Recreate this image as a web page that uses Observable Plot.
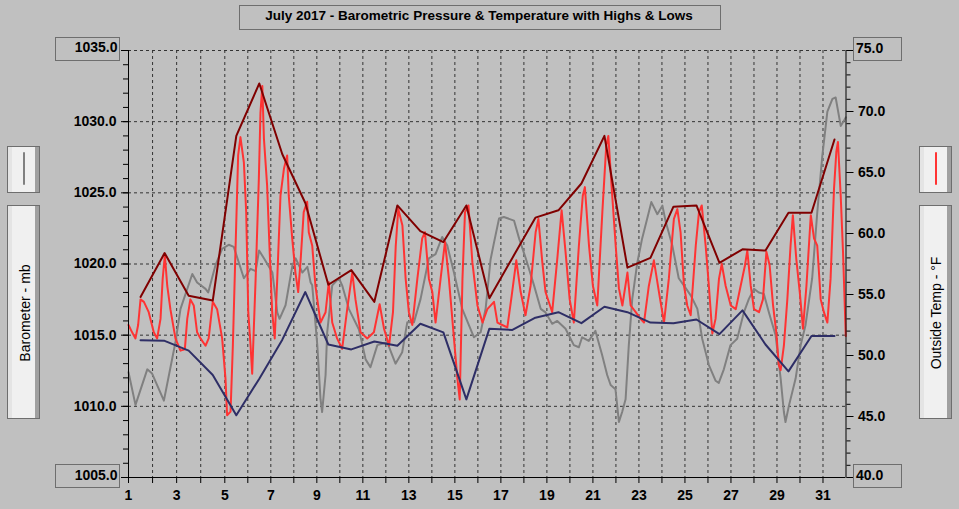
<!DOCTYPE html>
<html><head><meta charset="utf-8">
<script src="https://cdn.jsdelivr.net/npm/d3@7"></script>
<script src="https://cdn.jsdelivr.net/npm/@observablehq/plot@0.6"></script>
<style>
html,body{margin:0;padding:0;background:#c0c0c0;}
#wrap{position:relative;width:959px;height:509px;background:#c0c0c0;overflow:hidden;font-family:"Liberation Sans",Arial,sans-serif;}
#wrap svg{position:absolute;left:0;top:0;}
#wrap svg text{font-weight:bold;fill:#000;}
.box{position:absolute;box-sizing:border-box;border:1px solid #6e6e6e;}
.btn{position:absolute;box-sizing:border-box;border:1px solid #6e6e6e;background:linear-gradient(to right,#e4e4e4 0,#e4e4e4 4px,#f0f0f0 4px,#f0f0f0 calc(100% - 4px),#a0a0a0 calc(100% - 4px));}
.lbl{position:absolute;font-weight:bold;font-size:14px;line-height:14px;white-space:nowrap;color:#000;}
.vt{position:absolute;font-size:14px;line-height:14px;white-space:nowrap;color:#000;transform:translate(-50%,-50%) rotate(-90deg);}
.sw{position:absolute;width:2px;border-radius:1px;}
</style></head><body><div id="wrap"></div>
<script>
// ---- data ----
const titleText = "July 2017 - Barometric Pressure & Temperature with Highs & Lows";
const leftLabel = "Barometer - mb";
const rightLabel = "Outside Temp - °F";
const dayTicks = [1,2,3,4,5,6,7,8,9,10,11,12,13,14,15,16,17,18,19,20,21,22,23,24,25,26,27,28,29,30,31];
const baroTicks = [1005,1010,1015,1020,1025,1030,1035];
const tempTicks = [40,45,50,55,60,65,70,75];

const highTemps = [54.8,58.4,54.9,54.5,68.0,72.3,66.5,62.5,55.8,57.0,54.4,62.3,60.2,59.3,62.3,54.7,58.0,61.3,61.9,64.1,68.0,57.2,58.0,62.2,62.3,57.6,58.7,58.6,61.7,61.7,67.7];
const lowTemps = [51.25,51.2,50.4,48.4,45.1,48.1,51.3,55.2,50.9,50.5,51.15,50.8,52.6,51.9,46.4,52.2,52.1,53.1,53.55,52.65,54.0,53.55,52.7,52.65,52.95,51.75,53.7,50.9,48.7,51.6,51.6];

const baroDay = [1.00,1.29,1.78,1.98,2.47,2.95,3.16,3.65,3.85,4.20,
4.31,4.61,4.89,5.17,5.39,5.83,6.12,6.34,6.49,6.70,
7.07,7.28,7.38,7.64,7.94,8.08,8.37,8.59,8.73,8.80,
9.02,9.16,9.23,9.38,9.45,9.67,9.96,10.10,10.39,10.83,
11.12,11.33,11.63,12.06,12.42,12.71,12.93,13.22,13.51,13.87,
14.16,14.45,14.67,14.96,15.32,15.61,15.83,16.12,16.34,16.55,
16.70,16.92,17.13,17.57,17.79,18.08,18.44,18.73,18.94,19.23,
19.45,19.81,20.17,20.39,20.53,20.82,21.11,21.40,21.62,21.77,
21.98,22.13,22.27,22.42,22.56,22.71,22.93,23.14,23.36,23.54,
23.80,24.02,24.16,24.45,24.73,24.95,25.25,25.54,25.75,26.04,
26.33,26.47,26.69,26.98,27.27,27.56,27.78,28.00,28.21,28.43,
28.65,28.94,29.16,29.30,29.37,29.52,29.81,30.03,30.24,30.53,
30.75,30.97,31.19,31.41,31.55,31.77,31.92,31.99];
const baroMb = [1012.4,1010.1,1012.6,1012.3,1010.4,1014.5,1016.85,1019.3,1018.7,1018.25,
1018.0,1019.9,1021.07,1021.35,1021.2,1019.0,1019.66,1019.5,1020.95,1020.4,
1019.4,1016.6,1016.15,1017.1,1019.9,1020.4,1019.4,1019.8,1018.7,1018.5,
1014.3,1010.5,1009.6,1012.2,1015.2,1018.5,1019.0,1018.5,1016.85,1015.4,
1013.3,1012.75,1014.3,1014.5,1013.0,1013.8,1015.9,1015.9,1017.55,1020.4,
1020.7,1021.9,1021.3,1019.4,1016.85,1015.7,1014.85,1015.2,1016.9,1020.3,
1021.5,1023.2,1023.3,1023.05,1021.8,1020.4,1018.5,1016.85,1016.6,1015.8,
1016.0,1015.45,1014.3,1014.15,1014.85,1014.6,1015.3,1013.6,1012.2,1011.5,
1011.2,1008.9,1009.6,1010.5,1014.3,1017.55,1020.1,1021.8,1023.2,1024.35,
1023.5,1024.1,1023.0,1021.3,1019.0,1018.5,1017.8,1016.85,1014.75,1012.9,
1011.8,1011.65,1012.6,1014.3,1014.75,1016.6,1017.55,1018.25,1018.0,1017.9,
1016.6,1015.0,1011.95,1009.6,1008.9,1010.05,1011.95,1014.3,1015.7,1019.0,
1023.6,1027.6,1030.7,1031.6,1031.7,1029.7,1030.1,1030.3];

const tempDay = [1.00,1.15,1.29,1.40,1.50,1.64,1.84,2.05,2.19,2.33,
2.42,2.51,2.61,2.74,2.95,3.16,3.34,3.44,3.57,3.71,
3.85,3.99,4.20,4.33,4.50,4.68,4.89,5.03,5.10,5.25,
5.35,5.47,5.58,5.68,5.83,5.93,6.02,6.12,6.19,6.34,
6.48,6.55,6.63,6.70,6.84,6.94,7.06,7.17,7.28,7.42,
7.57,7.71,7.78,7.93,8.07,8.19,8.29,8.43,8.58,8.65,
8.80,8.94,9.16,9.38,9.52,9.67,9.88,10.10,10.32,10.54,
10.68,10.90,11.19,11.48,11.73,11.92,12.14,12.31,12.43,12.54,
12.72,12.86,13.00,13.15,13.37,13.58,13.70,13.87,14.02,14.16,
14.38,14.57,14.74,14.96,15.11,15.21,15.33,15.44,15.59,15.76,
15.98,16.20,16.41,16.70,16.85,17.06,17.28,17.47,17.67,17.86,
18.07,18.29,18.51,18.63,18.80,18.94,19.23,19.45,19.64,19.81,
19.99,20.17,20.39,20.56,20.65,20.83,21.00,21.19,21.41,21.58,
21.67,21.81,21.99,22.13,22.28,22.50,22.64,22.86,23.07,23.22,
23.43,23.65,23.87,24.09,24.30,24.42,24.52,24.67,24.81,24.96,
25.10,25.25,25.47,25.61,25.73,25.90,26.04,26.19,26.33,26.48,
26.60,26.77,26.99,27.21,27.42,27.61,27.71,27.86,28.00,28.22,
28.39,28.54,28.68,28.83,28.97,29.08,29.16,29.30,29.45,29.59,
29.69,29.84,29.99,30.13,30.28,30.47,30.61,30.75,30.90,31.04,
31.19,31.33,31.48,31.58,31.65,31.77,31.87,31.99];
const tempF = [52.5,51.9,51.4,52.5,54.6,54.4,53.55,51.9,51.4,53.0,
56.3,58.2,55.7,53.8,51.4,50.4,50.5,53.0,54.6,54.1,
51.9,51.4,50.8,51.4,54.4,53.8,51.4,48.1,45.1,45.4,
50.8,59.0,66.4,67.9,65.8,61.75,53.55,50.8,48.5,56.3,
64.5,69.9,72.1,67.8,63.9,59.0,53.55,51.4,56.3,63.1,
65.3,66.4,63.1,59.6,56.8,55.2,57.65,61.75,62.6,60.1,
59.0,55.7,52.7,53.55,56.0,52.7,51.4,50.55,53.8,56.8,
54.6,51.9,51.4,51.9,54.2,52.2,50.8,53.55,59.0,62.0,
60.65,56.3,53.55,52.5,56.3,59.6,60.1,56.3,55.2,52.7,
56.3,59.3,56.3,51.4,48.1,46.4,56.3,61.75,62.3,57.65,
54.1,52.7,53.8,54.4,52.7,52.5,52.3,54.9,57.8,55.2,
53.3,55.7,60.1,61.2,57.65,55.2,53.55,57.9,61.9,58.5,
54.6,52.7,59.0,63.1,63.8,59.0,55.7,54.1,61.75,67.2,
68.0,63.9,59.0,55.5,54.1,56.8,54.1,53.55,53.0,52.7,
55.7,57.8,55.2,52.7,56.3,59.0,61.2,62.0,60.1,55.7,
54.1,53.3,59.0,61.75,62.3,59.0,55.7,51.8,53.0,56.3,
57.5,55.7,54.1,53.8,55.7,57.4,58.6,55.7,53.8,53.55,
54.6,58.5,57.4,54.1,51.9,49.2,48.8,50.8,54.6,59.0,
61.5,57.9,55.2,52.2,55.7,61.5,59.6,59.0,54.6,53.55,
52.7,56.3,63.7,66.7,67.5,63.1,58.5,51.6];

// ---- helpers / tables ----
const bMin = baroTicks[0], bMax = baroTicks[baroTicks.length-1];
const tMin = tempTicks[0], tMax = tempTicks[tempTicks.length-1];
const toMb = t => bMin + (t - tMin) * (bMax - bMin) / (tMax - tMin);
const baro = baroDay.map((d,i)=>({day:d, v:baroMb[i]}));
const temp = tempDay.map((d,i)=>({day:d, v:toMb(tempF[i])}));
const highs = highTemps.map((t,i)=>({day:dayTicks[i]+0.5, v:toMb(t)}));
const lows = lowTemps.map((t,i)=>({day:dayTicks[i]+0.5, v:toMb(t)}));
const baroMinor = d3.range(bMin, bMax+1, 1);
const tempMinor = d3.range(tMin, tMax+1, 1);
const tempLabel = new Map(tempTicks.map(t=>[toMb(t), t]));

const chart = Plot.plot({
  width: 959, height: 509,
  marginLeft: 128, marginRight: 113.5, marginTop: 50, marginBottom: 32,
  x: {type: "linear", domain: [1, 5, 32], range: [128, 224.3, 845.5]},
  y: {domain: [bMin, bMax]},
  style: {background: "transparent", fontFamily: "'Liberation Sans', Arial, sans-serif", overflow: "visible"},
  marks: [
    Plot.ruleY(baroTicks.slice(1), {stroke: "#333", strokeDasharray: "3,3", strokeWidth: 1}),
    Plot.ruleX(dayTicks.slice(1), {stroke: "#333", strokeDasharray: "3,3", strokeWidth: 1}),
    Plot.line(baro, {x: "day", y: "v", stroke: "#808080", strokeWidth: 2}),
    Plot.line(temp, {x: "day", y: "v", stroke: "#ff3333", strokeWidth: 2}),
    Plot.line(lows, {x: "day", y: "v", stroke: "#2e2e66", strokeWidth: 2}),
    Plot.line(highs, {x: "day", y: "v", stroke: "#800000", strokeWidth: 2}),
    Plot.ruleX([1, 32], {stroke: "#000"}),
    Plot.ruleY([bMin], {stroke: "#000"}),
    Plot.axisY(baroMinor, {anchor: "left", tickSize: 5, tickFormat: () => "", label: null}),
    Plot.axisY(baroTicks, {anchor: "left", tickSize: 7, tickPadding: 5, fontSize: 14, label: null,
      tickFormat: d => (d === bMin || d === bMax) ? "" : d.toFixed(1)}),
    Plot.axisY(tempMinor.map(toMb), {anchor: "right", tickSize: 4, tickFormat: () => "", label: null}),
    Plot.axisY(tempTicks.map(toMb), {anchor: "right", tickSize: 7, tickPadding: 5, fontSize: 14, label: null,
      tickFormat: d => { const t = tempLabel.get(d); return (t === tMin || t === tMax) ? "" : t.toFixed(1); }}),
    Plot.axisX(dayTicks, {anchor: "bottom", tickSize: 6, tickPadding: 7, fontSize: 14, label: null,
      tickFormat: d => d % 2 ? String(d) : ""})
  ]
});

const wrap = document.getElementById("wrap");
wrap.appendChild(chart);

function add(cls, css, text) {
  const e = document.createElement("div");
  e.className = cls;
  Object.assign(e.style, css);
  if (text != null) e.textContent = text;
  wrap.appendChild(e);
  return e;
}
// title
add("box", {left: "239px", top: "5px", width: "482px", height: "25px"});
add("lbl", {left: "479px", top: "8.6px", fontSize: "13.5px", lineHeight: "13.5px", transform: "translateX(-50%)"}, titleText);
// range boxes
add("box", {left: "55px", top: "37px", width: "65px", height: "24px"});
add("box", {left: "55px", top: "464px", width: "65px", height: "24px"});
add("box", {left: "853px", top: "37px", width: "49px", height: "24px"});
add("box", {left: "853px", top: "464px", width: "49px", height: "24px"});
add("lbl", {right: (959 - 117.5) + "px", top: "39.9px"}, bMax.toFixed(1));
add("lbl", {right: (959 - 117.5) + "px", top: "467.5px"}, bMin.toFixed(1));
add("lbl", {left: "856px", top: "40.5px"}, tMax.toFixed(1));
add("lbl", {left: "856px", top: "467.5px"}, tMin.toFixed(1));
// legend buttons
add("btn", {left: "7px", top: "146px", width: "33px", height: "47px"});
add("sw", {left: "22.5px", top: "152px", height: "33px", background: "#808080"});
add("btn", {left: "7px", top: "205px", width: "33px", height: "214px"});
add("vt", {left: "24.5px", top: "313px"}, leftLabel);
add("btn", {left: "919px", top: "146px", width: "33px", height: "47px"});
add("sw", {left: "934.5px", top: "152px", height: "33px", background: "#ff3333"});
add("btn", {left: "919px", top: "205px", width: "33px", height: "214px"});
add("vt", {left: "936px", top: "313px"}, rightLabel);
</script></body></html>
